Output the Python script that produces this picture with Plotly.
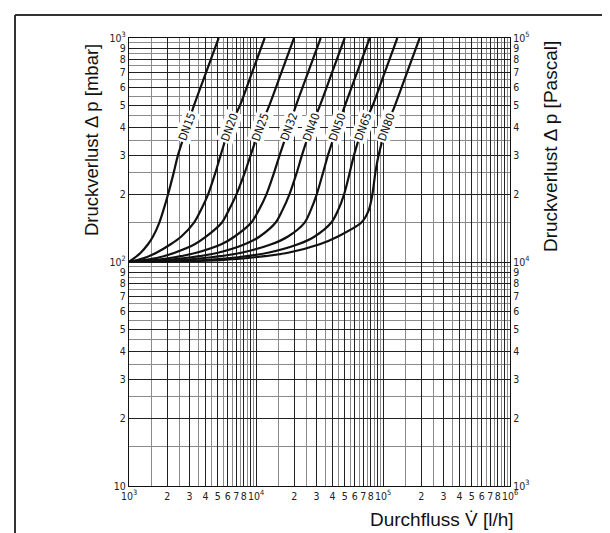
import math
import plotly.graph_objects as go

# Pressure levels (mbar) shared by all curves
P_LEVELS = [100, 102, 105, 110, 120, 130, 150, 170, 200, 250, 300, 400, 500, 700, 1000]

# Flow (l/h) read at each pressure level for each nominal size
V_DN15 = [1000, 1043, 1122, 1236, 1411, 1545, 1734, 1864, 2028, 2247, 2431, 2862, 3249, 4040, 5081]
V_DN20 = [1000, 1163, 1369, 1642, 2129, 2583, 3249, 3667, 4189, 4784, 5269, 6203, 7480, 9300, 11700]
V_DN25 = [1000, 1328, 1745, 2288, 3289, 4064, 5398, 6092, 7001, 8143, 9078, 10817, 12733, 15830, 19924]
V_DN32 = [1000, 1593, 2288, 3390, 5333, 6793, 9188, 10495, 12059, 13857, 15358, 18191, 20658, 25669, 32301]
V_DN40 = [1000, 1909, 3097, 5020, 8143, 10687, 14282, 16120, 18301, 20910, 23022, 27268, 31910, 39663, 49917]
V_DN50 = [1000, 2583, 4450, 7663, 13203, 17864, 24163, 26941, 30036, 33699, 36892, 43696, 50220, 62408, 78545]
V_DN65 = [1000, 3943, 7215, 12429, 21418, 28967, 39186, 44227, 49318, 54654, 59111, 69583, 82937, 103070, 129670]
V_DN80 = [1000, 5333, 9761, 17864, 31719, 44227, 67513, 77133, 82436, 87047, 92458, 106230, 124290, 154500, 194410]

SERIES = [("DN15", V_DN15), ("DN20", V_DN20), ("DN25", V_DN25), ("DN32", V_DN32),
          ("DN40", V_DN40), ("DN50", V_DN50), ("DN65", V_DN65), ("DN80", V_DN80)]

LABEL_P = 400  # pressure level where the curve names sit

# Axis ticks
X_DECADES = [1e3, 1e4, 1e5]
Y_DECADES = [10, 100]
MULTS = [1, 2, 3, 4, 5, 6, 7, 8, 9]
X_LABEL_MULTS = [1, 2, 3, 4, 5, 6, 7, 8]
HALF = [1.5, 2.5, 3.5, 4.5, 5.5, 6.5, 7.5, 8.5, 9.5]

def sup(v):
    e = int(round(math.log10(v)))
    return "10<sup>%d</sup>" % e

x_tickvals, x_ticktext = [], []
for d in X_DECADES:
    for m in X_LABEL_MULTS:
        x_tickvals.append(d * m)
        x_ticktext.append(sup(d) if m == 1 else str(m))
x_tickvals.append(1e6); x_ticktext.append(sup(1e6))
x_gridvals = [d * m for d in X_DECADES for m in MULTS] + [1e6]
x_minor = [d * h for d in X_DECADES for h in HALF]

y_tickvals, y_ticktext = [], []
for d in Y_DECADES:
    for m in MULTS:
        y_tickvals.append(d * m)
        if m == 1:
            y_ticktext.append("10" if d == 10 else sup(d))
        else:
            y_ticktext.append(str(m))
y_tickvals.append(1000); y_ticktext.append(sup(1000))
y_minor = [d * h for d in Y_DECADES for h in HALF]

y2_tickvals = [v * 100 for v in y_tickvals]
y2_ticktext = [sup(v) if t.startswith("10") else t for v, t in zip(y2_tickvals, y_ticktext)]

FONT = "Liberation Sans"
NARROW = "Liberation Sans Narrow, DejaVu Sans Condensed, Liberation Sans"
TICKFONT = dict(family=NARROW, size=10.5, color="#222")
fig = go.Figure()

for name, vals in SERIES:
    fig.add_trace(go.Scatter(x=vals, y=P_LEVELS, mode="lines",
                             line=dict(color="#111111", width=2.2, shape="spline", smoothing=0.8),
                             name=name, showlegend=False, hoverinfo="skip"))

# invisible trace to anchor the overlay axes (Pascal scale, x grid)
fig.add_trace(go.Scatter(x=[V_DN15[0]], y=[P_LEVELS[0] * 100], xaxis="x2", yaxis="y2", mode="markers",
                         marker=dict(opacity=0), showlegend=False, hoverinfo="skip"))

for name, vals in SERIES:
    i = P_LEVELS.index(LABEL_P)
    fig.add_annotation(x=math.log10(vals[i]), y=math.log10(LABEL_P), text=name,
                       showarrow=False, textangle=-70, bgcolor="white",
                       xanchor="center", yanchor="middle",
                       font=dict(family=NARROW, size=11.5, color="#111"), borderpad=1)

axis_common = dict(type="log", showline=True, linecolor="#111", linewidth=1.2, automargin=False,
                   ticks="", tickfont=TICKFONT, tickmode="array", gridcolor="#222",
                   gridwidth=1.1, zeroline=False, tickangle=0)

fig.update_layout(
    width=610, height=533,
    margin=dict(l=121, r=108, t=30, b=55),
    paper_bgcolor="white", plot_bgcolor="white",
    xaxis=dict(axis_common, range=[3, 6], tickvals=x_tickvals, ticktext=x_ticktext,
               mirror=True, showgrid=False,
               minor=dict(tickmode="array", tickvals=x_minor, showgrid=True,
                          gridcolor="#8a8a8a", gridwidth=1, ticks="")),
    xaxis2=dict(axis_common, range=[3, 6], tickvals=x_gridvals, overlaying="x",
                showticklabels=False, showline=False, showgrid=True),
    yaxis=dict(axis_common, range=[1, 3], tickvals=y_tickvals, ticktext=y_ticktext,
               minor=dict(tickmode="array", tickvals=y_minor, showgrid=True,
                          gridcolor="#8a8a8a", gridwidth=1, ticks="")),
    yaxis2=dict(axis_common, range=[3, 5], tickvals=y2_tickvals, ticktext=y2_ticktext,
                overlaying="y", side="right", showgrid=False, anchor="x2"),
    font=dict(family=FONT),
)

# Axis titles
fig.add_annotation(xref="paper", yref="paper", x=-0.1, y=0.772, xanchor="center", yanchor="middle",
                   text="Druckverlust \u0394 p [mbar]",
                   textangle=-90, showarrow=False, font=dict(family=FONT, size=18.5, color="#111"))
fig.add_annotation(xref="paper", yref="paper", x=1.108, y=0.757, xanchor="center", yanchor="middle",
                   text="Druckverlust \u0394 p [Pascal]",
                   textangle=-90, showarrow=False, font=dict(family=FONT, size=19, color="#111"))
fig.add_annotation(xref="paper", yref="paper", x=1.016, y=-0.074, xanchor="right", yanchor="middle",
                   text="Durchfluss V\u0307 [l/h]", showarrow=False,
                   font=dict(family=FONT, size=19, color="#111"))

# Outer frame (top and left edges)
fig.add_shape(type="line", xref="paper", yref="paper", x0=-0.2992, x1=1.3, y0=1.0513, y1=1.0513,
              line=dict(color="#333", width=2))
fig.add_shape(type="line", xref="paper", yref="paper", x0=-0.2992, x1=-0.2992, y0=1.0513, y1=-0.13,
              line=dict(color="#333", width=2))

fig.write_html("out.html")
